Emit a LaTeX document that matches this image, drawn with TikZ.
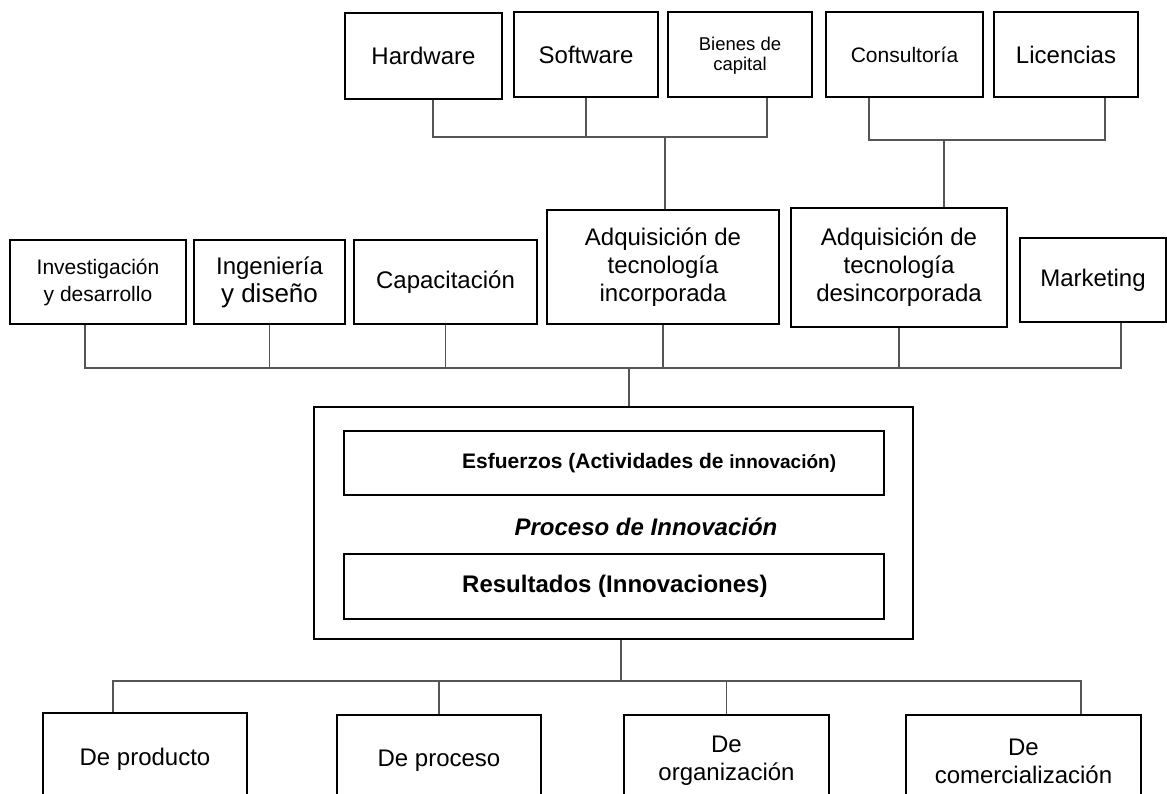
\documentclass[tikz,border=0pt]{standalone}
\usepackage{fontspec}
\setmainfont{Liberation Sans}
\usepackage{xcolor}
\usetikzlibrary{positioning,calc}
\definecolor{linkgray}{RGB}{85,85,85}
\newcommand{\fsL}{\fontsize{24}{28}\selectfont}
\newcommand{\fsXL}{\fontsize{26}{29}\selectfont}
\newcommand{\fsM}{\fontsize{21}{27}\selectfont}
\newcommand{\fsS}{\fontsize{18.5}{19.5}\selectfont}
\newcommand{\fsB}{\fontsize{21}{24}\selectfont}
\newcommand{\fsBs}{\fontsize{19}{22}\selectfont}

\begin{document}
\begin{tikzpicture}[x=1pt,y=-1pt,
  box/.style={draw=black,line width=2pt,inner sep=0pt,align=center,font=\fsL},
  link/.style={draw=linkgray,line width=1.1pt}]
  \useasboundingbox (0,0) rectangle (1167,794);
  \clip (0,0) rectangle (1167,794);
  % fuentes de tecnologia
  \node[box,minimum width=157,minimum height=86] (hw) at (423.5,56) {Hardware};
  \node[box,minimum width=144,minimum height=85] (sw) at (586,54.5) {Software};
  \node[box,minimum width=144,minimum height=85,font=\fsS] (bk) at (740,54.5) {\rule{0pt}{16pt}Bienes de\\capital};
  \node[box,minimum width=157,minimum height=85,font=\fsM] (cons) at (904.5,54.5) {Consultoría};
  \node[box,minimum width=144,minimum height=85] (lic) at (1066,54.5) {Licencias};
  % actividades
  \node[box,minimum width=176,minimum height=84,font=\fsM] (inv) at (98,282) {Investigación\\y desarrollo};
  \node[box,minimum width=151,minimum height=84] (ing) at (269.5,282) {Ingeniería\\\fsXL y diseño};
  \node[box,minimum width=183,minimum height=84] (cap) at (445.5,282) {Capacitación};
  \node[box,minimum width=232,minimum height=114] (adqi) at (663,267) {Adquisición de\\tecnología\\incorporada};
  \node[box,minimum width=216,minimum height=119] (adqd) at (899,267.5) {Adquisición de\\tecnología\\desincorporada};
  \node[box,minimum width=146,minimum height=84] (mkt) at (1093,280) {Marketing};
  % proceso
  \node[box,minimum width=599,minimum height=232] (proc) at (613.5,523) {};
  \node[box,minimum width=540,minimum height=64] (esf) at (614,463) {};
  \node[box,minimum width=540,minimum height=65] (res) at (614,586.5) {};
  \node[anchor=west,inner sep=0pt,font=\fsB\bfseries] (esft) at (462,463) {Esfuerzos (Actividades de {\fsBs innovación)}};
  \node[inner sep=0pt,font=\fsL\bfseries\itshape] (pint) at (646,527) {Proceso de Innovación};
  \node[anchor=west,inner sep=0pt,font=\fsL\bfseries] (rest) at (462,586.5) {Resultados (Innovaciones)};
  % innovaciones
  \node[box,minimum width=204,minimum height=92] (prod) at (145,759) {De producto};
  \node[box,minimum width=204,minimum height=92] (proce) at (439,761) {De proceso};
  \node[box,minimum width=205,minimum height=92] (org) at (726.5,761) {De\\organización};
  \node[box,minimum width=235,minimum height=92] (com) at (1023.5,761) {De\\comercialización};
  % conectores
  \coordinate (tbus) at (665,137);
  \draw[link] ($(hw.south)+(9.5,0)$) |- (tbus) -| ($(bk.south)+(27,0)$);
  \draw[link] (sw.south) -- (sw.south |- tbus);
  \draw[link] (tbus) -- (tbus |- adqi.north);
  \coordinate (cbus) at (944,140);
  \draw[link] ($(cons.south)+(-35.5,0)$) |- (cbus) -| ($(lic.south)+(39,0)$);
  \draw[link] (cbus) -- (cbus |- adqd.north);
  \coordinate (mbus) at (629,368);
  \draw[link] ($(inv.south)+(-13,0)$) |- (mbus) -| ($(mkt.south)+(28,0)$);
  \foreach \n in {ing,cap,adqi,adqd} \draw[link] (\n.south) -- (\n.south |- mbus);
  \draw[link] (mbus) -- (mbus |- proc.north);
  \coordinate (bbus) at (621,681);
  \draw[link] (bbus |- proc.south) -- (bbus);
  \draw[link] ($(prod.north)+(-32,0)$) |- (bbus) -| ($(com.north)+(57.5,0)$);
  \foreach \n in {proce,org} \draw[link] (\n.north) -- (\n.north |- bbus);
\end{tikzpicture}
\end{document}
